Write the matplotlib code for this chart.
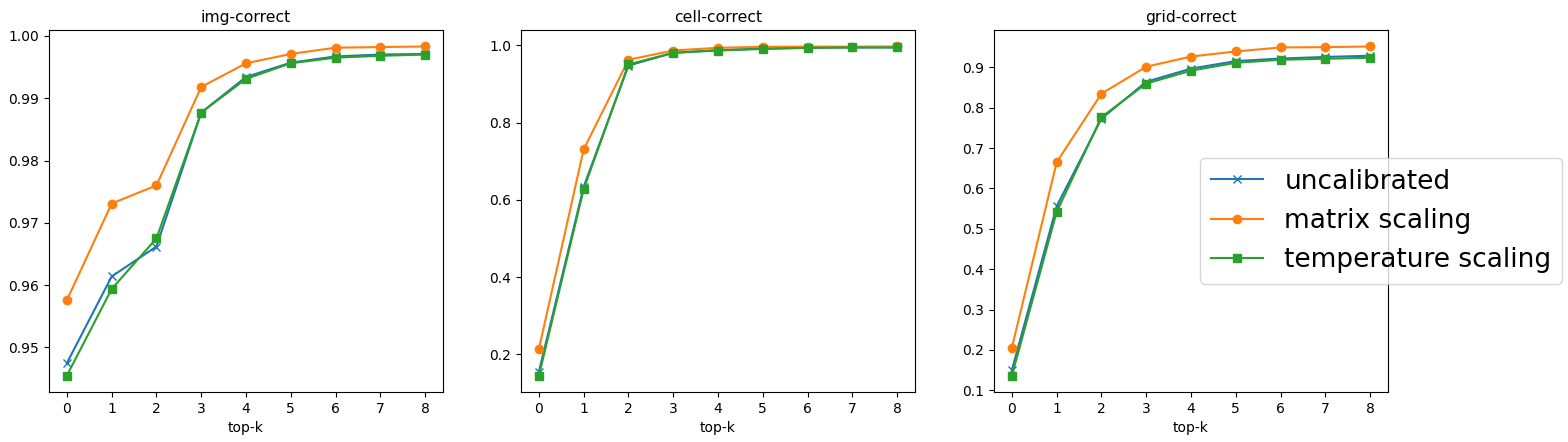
import matplotlib
matplotlib.use("Agg")
import matplotlib.pyplot as plt
import numpy as np

topk = list(range(9))
titles = ["img-correct", "cell-correct", "grid-correct"]
series_labels = ["uncalibrated", "matrix scaling", "temperature scaling"]

img_uncal = [0.9475, 0.9614, 0.9662, 0.9877, 0.9934, 0.9957, 0.9967, 0.9970, 0.9971]
img_matrix = [0.9576, 0.9731, 0.9760, 0.9918, 0.9956, 0.9971, 0.9981, 0.9982, 0.9983]
img_temp = [0.9455, 0.9594, 0.9675, 0.9877, 0.9931, 0.9956, 0.9965, 0.9968, 0.9970]

cell_uncal = [0.155, 0.634, 0.948, 0.981, 0.988, 0.992, 0.994, 0.995, 0.995]
cell_matrix = [0.214, 0.731, 0.963, 0.987, 0.994, 0.9966, 0.997, 0.997, 0.9975]
cell_temp = [0.145, 0.628, 0.951, 0.981, 0.987, 0.991, 0.994, 0.995, 0.995]

grid_uncal = [0.150, 0.556, 0.773, 0.8645, 0.897, 0.9157, 0.922, 0.926, 0.929]
grid_matrix = [0.2056, 0.665, 0.835, 0.9017, 0.927, 0.9396, 0.9495, 0.9503, 0.952]
grid_temp = [0.1363, 0.542, 0.777, 0.860, 0.892, 0.9115, 0.919, 0.9215, 0.924]

panels = [
    (img_uncal, img_matrix, img_temp),
    (cell_uncal, cell_matrix, cell_temp),
    (grid_uncal, grid_matrix, grid_temp),
]
markers = ["x", "o", "s"]
colors = ["C0", "C1", "C2"]

W, H = 1568, 442
fig = plt.figure(figsize=(W / 100, H / 100), dpi=100)
lefts = [49, 521, 994]
axw, top, bottom = 394, 30, 392
axes = []
for i, (title, data) in enumerate(zip(titles, panels)):
    ax = fig.add_axes([lefts[i] / W, (H - bottom) / H, axw / W, (bottom - top) / H])
    for vals, m, c, lab in zip(data, markers, colors, series_labels):
        ax.plot(topk, vals, marker=m, color=c, label=lab)
    ax.set_title(title, fontsize=11.25)
    ax.set_xlabel("top-k", fontsize=10)
    ax.set_xticks(topk)
    axes.append(ax)

axes[2].legend(loc="upper left", bbox_to_anchor=(1200 / W, 1 - 158 / H),
               bbox_transform=fig.transFigure, borderaxespad=0, fontsize=19)

fig.savefig("out.png", dpi=100)
